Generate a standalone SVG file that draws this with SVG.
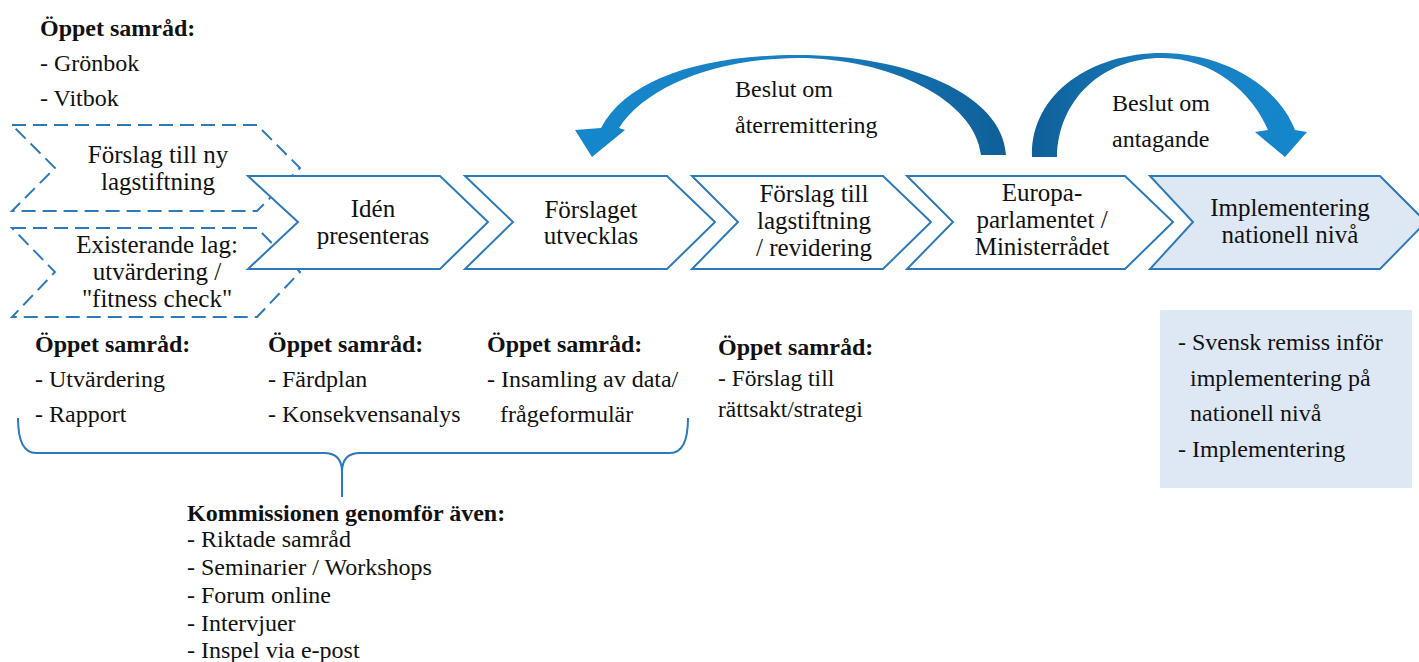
<svg xmlns="http://www.w3.org/2000/svg" width="1419" height="662" viewBox="0 0 1419 662">
<defs>
<style>
text{font-family:"Liberation Serif","Times New Roman",serif;fill:#111;}
.t{font-size:25px;text-anchor:middle;}
.l{font-size:24px;}
.b{font-size:24px;font-weight:bold;}
.s{font-size:23.5px;}
.ch{fill:#fff;stroke:#2c7abb;stroke-width:2;stroke-linejoin:miter;}
.dash{fill:none;stroke:#2c7abb;stroke-width:2;stroke-dasharray:14 7;}
.brace{fill:none;stroke:#2c7abb;stroke-width:2;}
</style>
<linearGradient id="g1" x1="575" y1="0" x2="1006" y2="0" gradientUnits="userSpaceOnUse">
<stop offset="0" stop-color="#1487cc"/><stop offset="0.5" stop-color="#1a80c2"/><stop offset="1" stop-color="#0f5f98"/>
</linearGradient>
<linearGradient id="g2" x1="1032" y1="0" x2="1307" y2="0" gradientUnits="userSpaceOnUse">
<stop offset="0" stop-color="#0f5f98"/><stop offset="0.5" stop-color="#1a80c2"/><stop offset="1" stop-color="#1487cc"/>
</linearGradient>
</defs>
<rect width="1419" height="662" fill="#fff"/>

<g id="top-consult">
<text class="b" x="40" y="36">Öppet samråd:</text>
<text class="l" x="40" y="71">- Grönbok</text>
<text class="l" x="40" y="106">- Vitbok</text>
</g>

<g id="node-ny">
<path class="dash" d="M12,125 L257,125 L300,168 L257,211 L12,211 L55,168 Z"/>
<text class="t" x="158" y="163">Förslag till ny</text>
<text class="t" x="158" y="190">lagstiftning</text>
</g>
<g id="node-existerande">
<path class="dash" d="M12,228 L257,228 L300,272 L257,317 L12,317 L55,272 Z"/>
<text class="t" x="157" y="253">Existerande lag:</text>
<text class="t" x="157" y="280">utvärdering /</text>
<text class="t" x="157" y="307">"fitness check"</text>
</g>

<g id="node-iden">
<path class="ch" d="M248,176 L440,176 L488,222 L440,269 L248,269 L298,222 Z"/>
<text class="t" x="373" y="217">Idén</text>
<text class="t" x="373" y="244">presenteras</text>
</g>
<g id="node-utvecklas">
<path class="ch" d="M465,176 L667,176 L715,222 L667,269 L465,269 L513,222 Z"/>
<text class="t" x="591" y="218">Förslaget</text>
<text class="t" x="591" y="244">utvecklas</text>
</g>
<g id="node-forslag">
<path class="ch" d="M692,176 L883,176 L931,222 L883,269 L692,269 L738,222 Z"/>
<text class="t" x="814" y="202">Förslag till</text>
<text class="t" x="814" y="229">lagstiftning</text>
<text class="t" x="814" y="256">/ revidering</text>
</g>
<g id="node-europa">
<path class="ch" d="M907,176 L1125,176 L1173,222 L1125,269 L907,269 L953,222 Z"/>
<text class="t" x="1042" y="201">Europa-</text>
<text class="t" x="1042" y="228">parlamentet /</text>
<text class="t" x="1042" y="255">Ministerrådet</text>
</g>
<g id="node-implementering">
<path class="ch" style="fill:#dde8f4" d="M1150,176 L1380,176 L1426,222 L1380,269 L1150,269 L1193,222 Z"/>
<text class="t" x="1290" y="216">Implementering</text>
<text class="t" x="1290" y="243">nationell nivå</text>
</g>

<g id="connectors">
<path fill="url(#g1)" d="M1006,155 C1003,95 910,55 797,55 C700,55 626,80 601,128 L575,130 L592,157 L625,130 L619,128 C645,88 712,59 797,58 C890,58 975,100 981,155 Z"/>
<path fill="url(#g2)" d="M1032,157 C1030,95 1090,53 1162,53 C1222,53 1278,85 1295,130 L1307,132 L1285,157 L1255,132 L1268,130 C1252,92 1212,58 1162,58 C1102,58 1058,100 1057,157 Z"/>
<path class="brace" d="M18,418 Q18,453 36,453 L324,453 Q342,453 342,472 L342,497 M342,472 Q342,453 360,453 L670,453 Q688,453 688,418"/>
</g>

<g id="label-aterremittering">
<text class="l" x="735" y="97">Beslut om</text>
<text class="l" x="735" y="133">återremittering</text>
</g>
<g id="label-antagande">
<text class="l" x="1112" y="111">Beslut om</text>
<text class="l" x="1112" y="147">antagande</text>
</g>

<g id="consult-1">
<text class="b" x="35" y="352">Öppet samråd:</text>
<text class="l" x="35" y="387">- Utvärdering</text>
<text class="l" x="35" y="422">- Rapport</text>
</g>
<g id="consult-2">
<text class="b" x="268" y="352">Öppet samråd:</text>
<text class="l" x="268" y="387">- Färdplan</text>
<text class="l" x="268" y="422">- Konsekvensanalys</text>
</g>
<g id="consult-3">
<text class="b" x="487" y="352">Öppet samråd:</text>
<text class="l" x="487" y="387">- Insamling av data/</text>
<text class="l" x="500" y="422">frågeformulär</text>
</g>
<g id="consult-4">
<text class="b" x="718" y="355">Öppet samråd:</text>
<text class="s" x="718" y="386">- Förslag till</text>
<text class="s" x="718" y="417">rättsakt/strategi</text>
</g>

<g id="kommissionen">
<text class="b" x="187" y="521">Kommissionen genomför även:</text>
<text class="l" x="187" y="547">- Riktade samråd</text>
<text class="l" x="187" y="575">- Seminarier / Workshops</text>
<text class="l" x="187" y="603">- Forum online</text>
<text class="l" x="187" y="631">- Intervjuer</text>
<text class="l" x="187" y="658">- Inspel via e-post</text>
</g>

<g id="national-box">
<rect x="1160" y="310" width="252" height="178" fill="#dde8f4"/>
<text class="l" x="1178" y="350">- Svensk remiss inför</text>
<text class="l" x="1190" y="386">implementering på</text>
<text class="l" x="1190" y="421">nationell nivå</text>
<text class="l" x="1178" y="457">- Implementering</text>
</g>
</svg>
